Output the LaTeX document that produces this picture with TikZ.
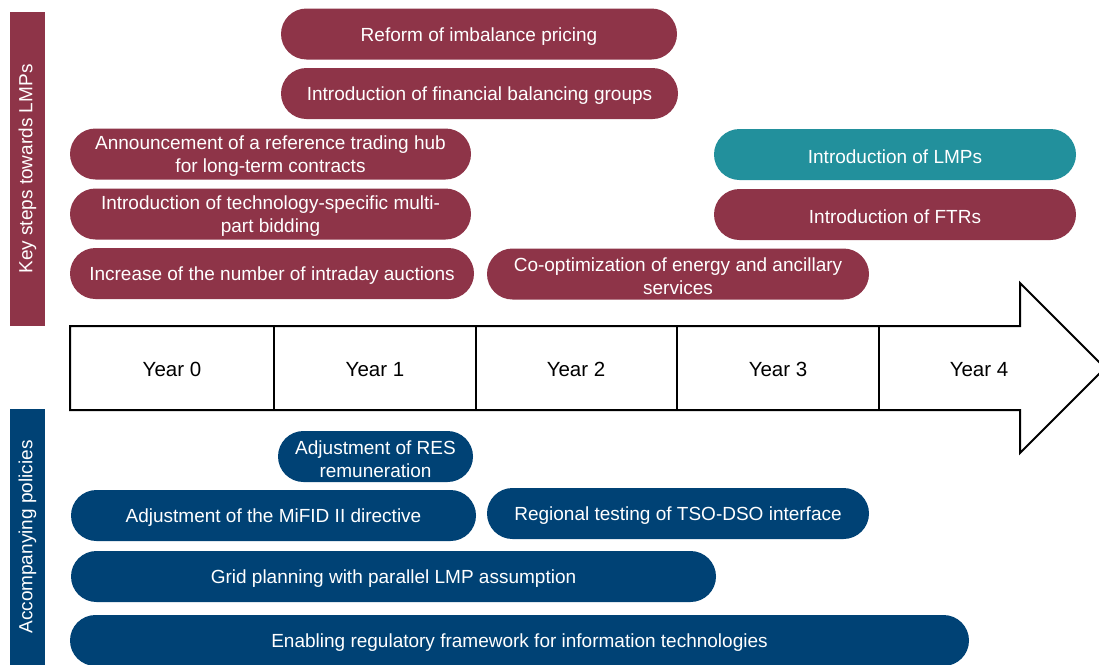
\documentclass[tikz,border=0pt]{standalone}
\usepackage{fontspec}
\setmainfont{Liberation Sans}
\definecolor{maroon}{RGB}{142,52,72}
\definecolor{navy}{RGB}{0,66,117}
\definecolor{teal}{RGB}{34,144,156}
\begin{document}
\begin{tikzpicture}[x=1pt,y=-1pt,
  pilltext/.style={inner sep=0pt, text=white, align=center, yshift=-2.5pt,
    font=\fontsize{19}{23}\selectfont},
  pill/.style={rectangle, rounded corners=25.5pt, minimum height=51pt,
    inner sep=0pt, label={[pilltext]center:{#1}}},
  redpill/.style={pill={#1}, fill=maroon},
  bluepill/.style={pill={#1}, fill=navy},
  tealpill/.style={pill={#1}, fill=teal},
  sidebar/.style={rectangle, rotate=90, minimum height=35pt, inner sep=0pt,
    text=white, font=\fontsize{19}{23}\selectfont},
  yearlabel/.style={inner sep=0pt, anchor=base, font=\fontsize{20.5}{24}\selectfont}]
\useasboundingbox (0,0) rectangle (1099,664);

% side captions
\node[sidebar, fill=maroon, minimum width=314pt] (keybar) at (27.5,169) {Key steps towards LMPs};
\node[sidebar, fill=navy, minimum width=256pt] (polbar) at (27.5,537) {Accompanying policies};

% key steps above the timeline
\node[redpill={Reform of imbalance pricing}, minimum width=396pt] (imbalance) at (479,34) {};
\node[redpill={Introduction of financial balancing groups}, minimum width=397pt] (balancing) at (479.5,93.5) {};
\node[redpill={Announcement of a reference trading hub\\for long-term contracts}, minimum width=401pt] (hub) at (270.5,154) {};
\node[redpill={Introduction of technology-specific multi-\\part bidding}, minimum width=401pt] (bidding) at (270.5,214) {};
\node[redpill={Increase of the number of intraday auctions}, minimum width=404pt] (intraday) at (272,273.5) {};
\node[redpill={Co-optimization of energy and ancillary\\services}, minimum width=382pt] (cooptim) at (678,274) {};
\node[tealpill={Introduction of LMPs}, minimum width=362pt] (lmps) at (895,154.5) {};
\node[redpill={Introduction of FTRs}, minimum width=362pt] (ftrs) at (895,214.5) {};

% timeline arrow
\draw[line width=2pt, line join=miter, fill=white]
  (70,326) -- (1020,326) -- (1020,283) -- (1105,368) -- (1020,453)
  -- (1020,410) -- (70,410) -- cycle;
\foreach \xx in {274,476,677,879}
  \draw[line width=2pt] (\xx,326) -- (\xx,410);
\node[yearlabel] (y0) at (172,376) {Year 0};
\node[yearlabel] (y1) at (375,376) {Year 1};
\node[yearlabel] (y2) at (576,376) {Year 2};
\node[yearlabel] (y3) at (778,376) {Year 3};
\node[yearlabel] (y4) at (979,376) {Year 4};

% accompanying policies below the timeline
\node[bluepill={Adjustment of RES\\remuneration}, minimum width=195pt] (res) at (375.5,456.5) {};
\node[bluepill={Adjustment of the MiFID II directive}, minimum width=405pt] (mifid) at (273.5,515.5) {};
\node[bluepill={Regional testing of TSO-DSO interface}, minimum width=382pt] (tsodso) at (678,513.5) {};
\node[bluepill={Grid planning with parallel LMP assumption}, minimum width=645pt] (grid) at (393.5,576.5) {};
\node[bluepill={Enabling regulatory framework for information technologies}, minimum width=899pt] (itframe) at (519.5,640.5) {};
\end{tikzpicture}
\end{document}
